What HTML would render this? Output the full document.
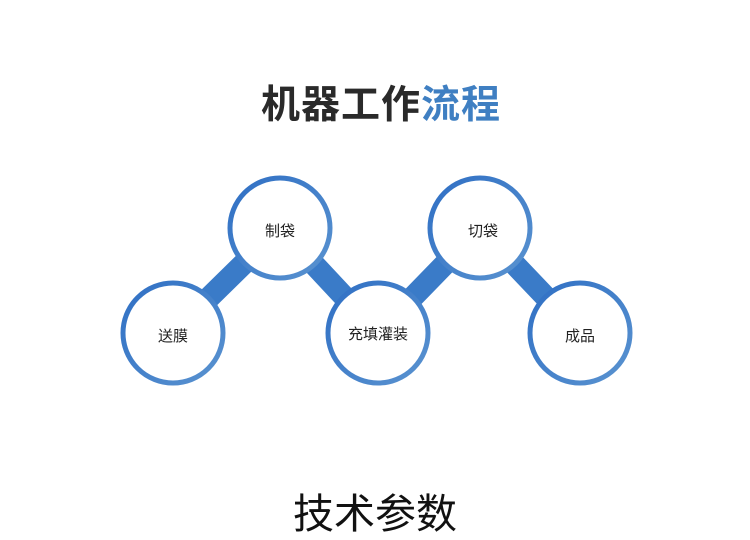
<!DOCTYPE html>
<html><head><meta charset="utf-8"><style>
body{margin:0;width:750px;height:540px;background:#fff;overflow:hidden;position:relative;font-family:"Liberation Sans","Noto Sans CJK SC",sans-serif}
.t{position:absolute;left:0;width:750px;text-align:center}
</style></head><body>
<div class="t" style="top:74px;left:6px;font-size:39px;font-weight:bold;color:#2a2a2a;letter-spacing:1px">机器工作<span style="color:#3f7fc2">流程</span></div>
<svg width="750" height="540" style="position:absolute;left:0;top:0">
<defs><linearGradient id="g" x1="0" y1="0" x2="1" y2="1"><stop offset="0" stop-color="#2f6fc4"/><stop offset="1" stop-color="#5a93d0"/></linearGradient></defs>
<g stroke="#3a7bc8" stroke-width="22">
<line x1="173" y1="333" x2="280" y2="228"/>
<line x1="280" y1="228" x2="378" y2="333"/>
<line x1="378" y1="333" x2="480" y2="228"/>
<line x1="480" y1="228" x2="580" y2="333"/>
</g>
<g fill="#fff" stroke="url(#g)" stroke-width="5">
<circle cx="173" cy="333" r="50"/>
<circle cx="280" cy="228" r="50"/>
<circle cx="378" cy="333" r="50"/>
<circle cx="480" cy="228" r="50"/>
<circle cx="580" cy="333" r="50"/>
</g>
<g font-family="Liberation Sans, Noto Sans CJK SC, sans-serif" font-size="15" fill="#222" text-anchor="middle">
<text x="173" y="341">送膜</text>
<text x="280" y="236">制袋</text>
<text x="378" y="339">充填灌装</text>
<text x="483" y="236">切袋</text>
<text x="580" y="341">成品</text>
</g>
</svg>
<div class="t" style="top:480px;font-size:41px;color:#111">技术参数</div>
</body></html>
